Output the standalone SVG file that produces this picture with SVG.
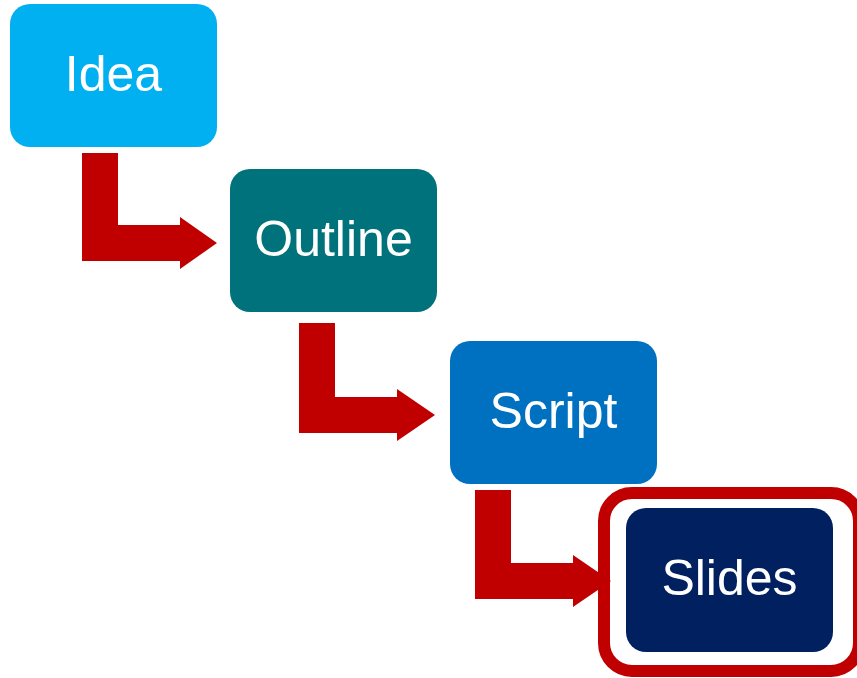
<svg xmlns="http://www.w3.org/2000/svg" width="857" height="678" viewBox="0 0 857 678">
<style>
.box{stroke:none}
.lbl{font-family:"Liberation Sans",Arial,sans-serif;font-size:50px;fill:#FFFFFF;text-anchor:middle}
.arr{fill:#C00000;stroke:none}
</style>
<rect width="857" height="678" fill="#FFFFFF"/>
<g id="connectors">
<polygon class="arr" points="82,153 118,153 118,225 180,225 180,217 217,243 180,269 180,261 82,261"/>
<polygon class="arr" points="299,323 335,323 335,397 397,397 397,389 435,415 397,441 397,433 299,433"/>
<polygon class="arr" points="475,490 511,490 511,563 573,563 573,555 611,581 573,607 573,599 475,599"/>
</g>
<g id="idea">
<rect class="box" x="10" y="4" width="207" height="143" rx="20" fill="#00B0F0"/>
<text class="lbl" x="113.5" y="91">Idea</text>
</g>
<g id="outline">
<rect class="box" x="230" y="169" width="207" height="143" rx="20" fill="#00727C"/>
<text class="lbl" x="333.5" y="256">Outline</text>
</g>
<g id="script">
<rect class="box" x="450" y="341" width="207" height="143" rx="20" fill="#0070C0"/>
<text class="lbl" x="553.5" y="428">Script</text>
</g>
<g id="slides">
<rect x="604" y="493" width="255" height="178" rx="28" fill="none" stroke="#C00000" stroke-width="12"/>
<rect class="box" x="626" y="508" width="207" height="144" rx="20" fill="#002060"/>
<text class="lbl" x="729.5" y="595">Slides</text>
</g>
</svg>
